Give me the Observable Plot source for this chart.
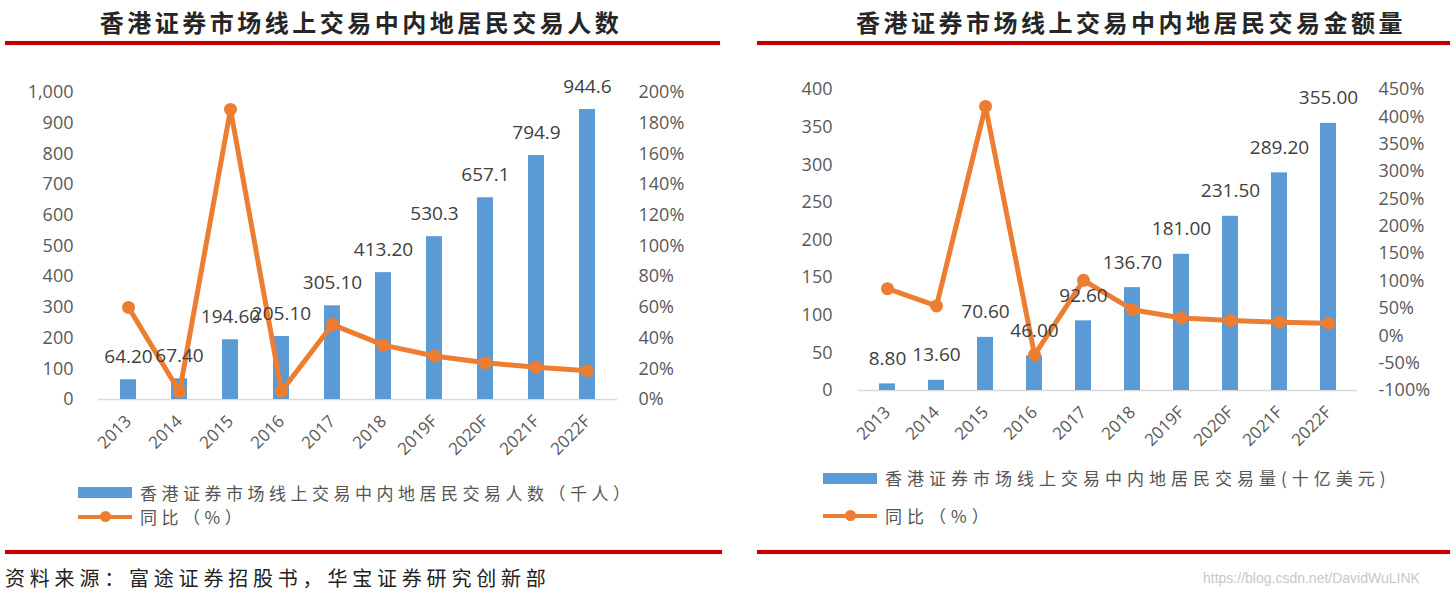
<!DOCTYPE html>
<html>
<head>
<meta charset="utf-8">
<script src="https://cdn.jsdelivr.net/npm/d3@7"></script>
<script src="https://cdn.jsdelivr.net/npm/@observablehq/plot@0.6"></script>
<style>
  body { margin: 0; background: #fff; }
  #root { position: relative; width: 1456px; height: 595px; background: #fff; overflow: hidden; font-family: "Noto Sans CJK SC", sans-serif; }
  .abs { position: absolute; white-space: nowrap; }
  .title { font-size: 24px; font-weight: 700; letter-spacing: 3.5px; color: #262626; text-align: center; line-height: 30px; }
  .redline { background: #c00000; height: 4px; box-shadow: 0 0 1px #e06060; }
  .legtext { font-size: 17px; color: #555; line-height: 20px; }
  .swatch { background: #5B9BD5; height: 11px; width: 54px; }
  .oline { background: #ED7D31; height: 4px; width: 54px; }
  .odot { background: #ED7D31; width: 11px; height: 11px; border-radius: 50%; }
  .layer { position: absolute; left: 0; top: 0; }
</style>
</head>
<body>
<div id="root">
  <div class="abs title" style="left:0;width:722px;top:7px;">香港证券市场线上交易中内地居民交易人数</div>
  <div class="abs title" style="left:757px;width:748px;top:7px;">香港证券市场线上交易中内地居民交易金额量</div>
  <div class="abs redline" style="left:5px;width:715px;top:41px;"></div>
  <div class="abs redline" style="left:757px;width:693px;top:41px;"></div>

  <div id="chartA" class="abs" style="left:0;top:60px;width:730px;height:410px;"></div>
  <div id="chartB" class="abs" style="left:730px;top:60px;width:726px;height:410px;"></div>

  <div class="abs swatch" style="left:78px;top:487px;"></div>
  <div class="abs legtext" style="left:140px;top:483px;letter-spacing:4.5px;">香港证券市场线上交易中内地居民交易人数（千人）</div>
  <div class="abs oline" style="left:78px;top:515px;"></div>
  <div class="abs odot" style="left:100px;top:511px;"></div>
  <div class="abs legtext" style="left:140px;top:507px;letter-spacing:4.5px;">同比（%）</div>

  <div class="abs swatch" style="left:823px;top:473px;"></div>
  <div class="abs legtext" style="left:885px;top:468px;letter-spacing:5px;">香港证券市场线上交易中内地居民交易量(十亿美元)</div>
  <div class="abs oline" style="left:823px;top:514px;"></div>
  <div class="abs odot" style="left:845px;top:510px;"></div>
  <div class="abs legtext" style="left:885px;top:506px;letter-spacing:5px;">同比（%）</div>

  <div class="abs redline" style="left:5px;width:717px;top:550px;"></div>
  <div class="abs redline" style="left:757px;width:693px;top:550px;"></div>
  <div class="abs" style="left:5px;top:565px;font-size:20px;letter-spacing:4.8px;color:#222;line-height:26px;">资料来源：富途证券招股书，华宝证券研究创新部</div>
  <div class="abs" style="left:1203px;top:569px;font-size:14px;color:#c8c8c8;font-family:'Liberation Sans',sans-serif;line-height:18px;">https://blog.csdn.net/DavidWuLINK</div>
</div>
<script>
// ---- data ----
const years = ["2013","2014","2015","2016","2017","2018","2019F","2020F","2021F","2022F"];

const usersK = [64.2, 67.4, 194.6, 205.1, 305.1, 413.2, 530.3, 657.1, 794.9, 944.6];
const usersLabels = ["64.20","67.40","194.60","205.10","305.10","413.20","530.3","657.1","794.9","944.6"];
const usersYoY = [0.60, 0.05, 1.89, 0.054, 0.488, 0.354, 0.283, 0.239, 0.21, 0.188];
const usersTicks = [0,100,200,300,400,500,600,700,800,900,1000];
const usersPctTicks = [0,0.2,0.4,0.6,0.8,1.0,1.2,1.4,1.6,1.8,2.0];

const volumeB = [8.8, 13.6, 70.6, 46.0, 92.6, 136.7, 181.0, 231.5, 289.2, 355.0];
const volumeLabels = ["8.80","13.60","70.60","46.00","92.60","136.70","181.00","231.50","289.20","355.00"];
const volumeYoY = [0.86, 0.545, 4.19, -0.348, 1.013, 0.476, 0.324, 0.279, 0.249, 0.228];
const volumeTicks = [0,50,100,150,200,250,300,350,400];
const volumePctTicks = [-1,-0.5,0,0.5,1,1.5,2,2.5,3,3.5,4,4.5];

const BLUE = "#5B9BD5", ORANGE = "#ED7D31", GRAY = "#595959";
const pctFmt = d => Math.round(d * 100) + "%";

function build(el, cfg) {
  const data = years.map((y, i) => ({year: y, v: cfg.values[i], label: cfg.labels[i], g: cfg.yoy[i]}));
  const common = {
    width: cfg.width, height: 410,
    marginTop: cfg.mt, marginBottom: cfg.mb, marginLeft: cfg.ml, marginRight: cfg.mr,
    style: {fontFamily: "'Open Sans', sans-serif", fontSize: "18px", color: GRAY, background: "transparent", overflow: "visible"}
  };
  const xBand = {type: "band", domain: years, paddingInner: cfg.pi, paddingOuter: cfg.pi / 2, axis: null};
  const xPoint = {type: "point", domain: years, padding: 0.5, axis: null};
  const yLin = {domain: [0, cfg.yMax], axis: null};

  const l1 = Plot.plot({
    ...common, x: xBand, y: yLin,
    marks: [
      Plot.ruleY([0], {stroke: "#d9d9d9", strokeWidth: 1.5}),
      Plot.barY(data, {x: "year", y: "v", fill: BLUE}),
      Plot.axisY(cfg.ticks, {anchor: "left", label: null, tickSize: 0, tickPadding: cfg.ltp, tickFormat: cfg.tickFmt, fontSize: 18}),
      Plot.axisX({anchor: "bottom", label: null, tickSize: 0, tickPadding: 19, tickRotate: -45, fontSize: 17})
    ]
  });
  const l2 = Plot.plot({
    ...common, x: xPoint, y: {domain: cfg.pDomain, axis: null},
    marks: [
      Plot.line(data, {x: "year", y: "g", stroke: ORANGE, strokeWidth: 5, strokeLinejoin: "round"}),
      Plot.dot(data, {x: "year", y: "g", fill: ORANGE, r: 6.5}),
      Plot.axisY(cfg.pTicks, {anchor: "right", label: null, tickSize: 0, tickPadding: 21, tickFormat: pctFmt, fontSize: 18})
    ]
  });
  const l3 = Plot.plot({
    ...common, x: xPoint, y: yLin,
    marks: [
      Plot.text(data, {x: "year", y: "v", text: "label", dy: cfg.ldy, fill: "#404040", fontSize: 19})
    ]
  });
  for (const s of [l1, l2, l3]) { s.classList.add("layer"); el.appendChild(s); }
}

build(document.getElementById("chartA"), {
  width: 730, mt: 32, mb: 71, ml: 98, mr: 113, pi: 0.69,
  values: usersK, labels: usersLabels, yoy: usersYoY,
  yMax: 1000, ticks: usersTicks, tickFmt: d3.format(","), ltp: 25,
  pDomain: [0, 2], pTicks: usersPctTicks, ldy: -23
});
build(document.getElementById("chartB"), {
  width: 726, mt: 29, mb: 80, ml: 128, mr: 99, pi: 0.68,
  values: volumeB, labels: volumeLabels, yoy: volumeYoY,
  yMax: 400, ticks: volumeTicks, tickFmt: d => String(d), ltp: 26,
  pDomain: [-1, 4.5], pTicks: volumePctTicks, ldy: -25
});
</script>
</body>
</html>
